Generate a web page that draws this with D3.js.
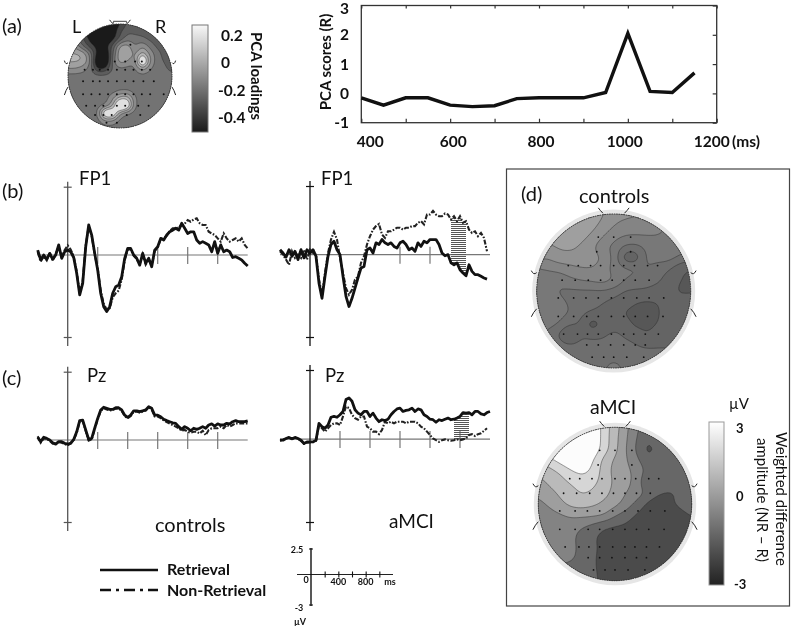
<!DOCTYPE html>
<html><head><meta charset="utf-8">
<style>
html,body{margin:0;padding:0;background:#fff}
svg{display:block;filter:blur(0.45px)}
text{font-family:Lato,"Open Sans",sans-serif;fill:#111}
.b{font-weight:700}
</style>
<script src="https://cdn.jsdelivr.net/npm/d3@7"></script>
</head><body><svg id="c" width="800" height="626"></svg>
<script>
// ---------- panel (a) scores ----------
const scoreMs = [400,450,500,550,600,650,700,750,800,850,900,950,1000,1050,1100,1150];
const scoreVals = [-0.15,-0.4,-0.15,-0.15,-0.4,-0.45,-0.42,-0.18,-0.15,-0.15,-0.15,0.03,2.05,0.07,0.03,0.7];
const scoreXLabels = [400,600,800,1000,1200];
const scoreYLabels = [3,2,1,0,-1];
// ---------- ERP traces, uV, every 20 ms from -200 ms ----------
const fp1CtrlRet = [.18,-.18,0,-.16,.06,-.16,0,.37,-.12,.12,.18,.12,-.09,-.67,-1.46,-1.04,.3,1.1,.73,.06,-.55,-1.4,-1.89,-2.07,-1.89,-1.4,-1.16,-1.1,-.79,-.12,.24,.24,0,-.12,-.37,.06,-.3,-.12,-.43,.18,.3,.61,.55,.73,.85,.91,.98,.91,1.16,.98,.79,.85,.85,.55,.43,.49,.43,.37,.12,.49,.06,.37,.12,.18,.12,-.09,-.06,-.12,-.18,-.3,-.4];
const fp1CtrlNon = [.1,-.24,-.06,-.2,.1,-.2,.05,.3,-.05,.18,.35,.2,-.05,-.6,-1.4,-.95,.35,1.05,.7,.02,-.5,-1.3,-1.78,-2.0,-1.95,-1.55,-1.4,-1.3,-.9,-.2,.2,.2,-.02,-.15,-.33,.03,-.35,-.17,-.4,.15,.27,.58,.6,.7,.88,.98,.98,1.0,1.1,1.15,1.28,1.22,1.3,1.34,1.16,1.1,1.1,.85,.79,.73,.61,.49,.79,.61,.49,.55,.61,.49,.61,.37,.24];
const fp1McirRet = [.18,.06,-.09,.18,-.06,.12,-.18,.18,-.12,.18,.06,.18,-.06,-1.04,-1.59,-.79,-.06,.37,.49,.18,0,-.79,-1.52,-1.89,-1.59,-1.22,-.85,-.49,-.43,.18,.24,.06,.43,.37,.55,.43,.37,.43,.3,.24,.43,.49,.37,.18,.24,.12,.43,.3,.49,.43,.55,.55,.55,.37,.06,-.04,0,-.3,-.37,-.3,-.55,-.67,-.77,-.37,-.61,-.73,-.73,-.79,-.85,-.89];
const fp1McirNon = [.12,0,-.18,-.37,.12,-.12,0,-.12,.18,-.18,.18,.06,0,-.91,-1.46,-.67,.06,.55,.83,.55,-.12,-.67,-1.22,-1.46,-1.28,-.91,-.79,-.3,-.06,.37,.67,.91,1.04,1.12,.73,.61,.85,.85,.91,.98,.98,.91,.98,.98,1.04,1.04,1.16,1.22,1.1,1.46,1.46,1.59,1.46,1.4,1.4,1.5,1.46,1.28,1.4,1.22,1.4,1.16,1.22,.91,.79,.85,.67,.79,.61,.12];
const pzCtrlRet = [.1,-.06,.1,.06,0,-.1,-.15,-.06,-.06,-.12,-.15,-.12,.02,.3,.71,.73,.37,.02,.06,.43,.79,1.1,1.2,1.16,1.12,1.12,1.18,1.18,1.1,.91,.83,.91,1.07,1.07,1.04,1.07,1.1,1.22,1.16,.91,.91,.85,.76,.71,.67,.63,.61,.49,.39,.49,.43,.34,.43,.39,.43,.49,.43,.55,.59,.51,.59,.55,.55,.61,.59,.67,.71,.67,.67,.67,.7];
const pzCtrlNon = [.14,-.1,.06,.04,-.03,-.13,-.12,-.08,-.1,-.14,-.2,-.1,0,.26,.68,.7,.33,-.02,.02,.4,.75,1.06,1.16,1.12,1.08,1.1,1.15,1.15,1.06,.87,.8,.88,1.03,1.04,1.0,1.04,1.08,1.2,1.12,.86,.86,.8,.72,.66,.6,.55,.49,.43,.34,.37,.3,.27,.3,.3,.24,.34,.18,.37,.43,.43,.43,.49,.43,.55,.49,.55,.61,.61,.61,.61,.61];
const pzMciRet = [-.04,-.04,.02,.06,.01,.06,.02,-.04,-.16,-.1,-.1,-.1,-.04,.57,.45,.39,.51,.79,.82,.79,.88,1.0,1.43,1.49,1.37,1.06,.94,.88,1.0,1.0,.82,.94,.76,.63,.7,.67,.72,.88,1.0,1.09,1.12,1.0,1.04,1.06,1.12,1.0,1.09,1.06,.88,.82,.72,.7,.61,.7,.67,.72,.76,.7,.72,.76,.82,.96,.94,.96,.88,1.0,1.0,.91,.88,.96,1.0];
const pzMciNon = [-.06,-.02,.03,.05,0,.05,.01,-.06,-.17,-.13,-.12,-.11,-.06,.51,.39,.27,.39,.51,.57,.57,.51,.82,1.18,1.12,.88,.76,.7,.82,.82,.45,.39,.27,.27,.18,.33,.63,.57,.63,.57,.63,.63,.63,.57,.63,.63,.63,.57,.45,.39,.27,.15,.02,-.04,-.1,-.04,-.01,-.04,-.06,-.04,-.01,-.04,-.01,.02,.15,.18,.11,.18,.21,.3,.39];
const xTickMs = [200,400,600,800,1000];
// ---------- topographic grids, 15 x 15 samples across the head ----------
const topoPca = [
[-.45,-.45,-.45,-.45,-.45,-.45,-.45,-.42,-.3,-.28,-.28,-.28,-.28,-.28,-.28],
[-.2,-.2,-.38,-.48,-.5,-.5,-.48,-.33,-.25,-.27,-.28,-.28,-.28,-.28,-.28],
[-.2,-.2,-.3,-.45,-.5,-.5,-.45,-.3,-.2,-.2,-.22,-.27,-.28,-.28,-.28],
[-.1,-.1,-.25,-.36,-.44,-.44,-.3,-.04,-.02,-.18,-.08,-.18,-.27,-.28,-.28],
[.02,.02,0,-.18,-.45,-.55,-.25,0,.02,-.12,.05,-.1,-.2,-.28,-.28],
[.02,.02,0,-.13,-.6,-.6,-.2,-.02,-.08,-.16,.4,-.08,-.2,-.25,-.28],
[-.08,-.08,-.12,-.2,-.42,-.4,-.22,-.18,-.2,-.18,-.04,-.16,-.2,-.22,-.28],
[-.2,-.2,-.2,-.2,-.2,-.2,-.2,-.2,-.2,-.2,-.2,-.2,-.2,-.2,-.2],
[-.2,-.2,-.2,-.2,-.2,-.2,-.2,-.2,-.2,-.2,-.2,-.2,-.2,-.2,-.2],
[-.2,-.2,-.2,-.2,-.2,-.2,-.2,-.17,-.17,-.2,-.2,-.2,-.2,-.2,-.2],
[-.2,-.2,-.2,-.2,-.2,-.2,-.1,.05,.08,-.16,-.2,-.2,-.2,-.2,-.2],
[-.2,-.2,-.2,-.2,-.2,-.17,-.05,.4,.25,-.17,-.2,-.2,-.2,-.2,-.2],
[-.2,-.2,-.2,-.2,-.18,.3,.3,-.1,-.18,-.2,-.2,-.2,-.2,-.2,-.2],
[-.2,-.2,-.2,-.2,-.2,-.1,-.1,-.2,-.2,-.2,-.2,-.2,-.2,-.2,-.2],
[-.2,-.2,-.2,-.2,-.2,-.2,-.2,-.2,-.2,-.2,-.2,-.2,-.2,-.2,-.2]];
const topoControls = [
[.4,.4,.4,.4,.4,.4,.25,0,-.05,-.1,-.15,-.4,-.6,-.7,-.7],
[.4,.4,.4,.4,.4,.35,.1,-.15,-.3,-.35,-.35,-.4,-.55,-.7,-.7],
[.4,.4,.4,.4,.35,.15,-.15,-.4,-.52,-.52,-.52,-.52,-.6,-.7,-.7],
[0,.1,.25,.3,.15,-.1,-.45,-.62,-.9,-.95,-.75,-.7,-.7,-.7,-.75],
[-.05,-.15,.05,.05,.05,0,-.17,-.6,-1.3,-1.3,-.75,-.72,-.7,-.85,-.95],
[-.6,-.5,-.42,-.3,-.2,-.17,-.35,-.65,-.72,-.77,-.82,-.95,-1.05,-1.3,-1.4],
[-.7,-.72,-.78,-.6,-.5,-.45,-.35,-.5,-.83,-.9,-.95,-1,-1.2,-1.35,-1.4],
[-.7,-.72,-.85,-.9,-.9,-.9,-.87,-.95,-1.1,-1.1,-1.1,-1.2,-1.25,-1.4,-1.4],
[-.7,-.72,-.75,-.85,-.9,-.95,-1.07,-1.15,-1.2,-1.35,-1.4,-1.35,-1.25,-1.25,-1.2],
[-.7,-.72,-.75,-.8,-1,-1.1,-1.15,-1.2,-1.4,-1.45,-1.45,-1.4,-1.2,-1.2,-1.2],
[-.7,-.72,-.8,-1,-1.1,-1.6,-1.3,-1.15,-1.2,-1.45,-1.45,-1.35,-1.2,-1.2,-1.2],
[-.75,-.9,-1.1,-1.6,-1.1,-1.15,-1.1,-1,-1.1,-1.15,-1.35,-1.2,-1.2,-1.2,-1.2],
[-.85,-.85,-.9,-.95,-.95,-.95,-1,-.95,-1,-1.05,-1.1,-1.1,-1.1,-1.1,-1.1],
[-.95,-.95,-.95,-.95,-.95,-.95,-.95,-.88,-.95,-.95,-.95,-.95,-.95,-.95,-.95],
[-.95,-.95,-.95,-.95,-.95,-.95,-.85,-.7,-.85,-.95,-.95,-.95,-.95,-.95,-.95]];
const topoMci = [
[3,3,3,3,3,3,1.9,1.1,.2,-.7,-1.1,-1.1,-1.1,-1.1,-1.1],
[3,3,3,3,3,3,1.9,1,.1,-.8,-1.4,-1.1,-1.1,-1.1,-1.1],
[3,3,3,3,3,2.9,1.9,1,0,-.9,-1.9,-1.2,-1.1,-1.1,-1.1],
[1.6,2,2.6,3,3,2.3,1.2,.6,.1,-.6,-1.3,-1.2,-1.1,-1.1,-1.1],
[.9,1.2,1.6,2.2,2.5,2.1,1.1,.5,.2,-.2,-1,-1.3,-1.2,-1.1,-1.1],
[.5,.9,1.2,1.6,1.9,1.7,1.2,.6,.2,-.2,-1.8,-1.2,-1.2,-1.2,-1.1],
[.1,.5,.9,1.2,1.6,1.4,1,.5,0,-.3,-.9,-1.4,-1.6,-1.4,-1.2],
[-.2,.1,.6,1,1.1,.9,.6,.3,-.3,-1,-1.7,-2,-1.6,-1.3,-1.2],
[-.4,-.3,-.1,.2,.2,.2,.1,-.7,-1.1,-1.6,-2,-2.1,-2,-1.7,-1.4],
[-.5,-.5,-.5,-.5,-.7,-1,-1.4,-1.5,-1.6,-2,-2.1,-2.1,-2.1,-2,-1.8],
[-.5,-.5,-.5,-.6,-1,-1.4,-1.8,-2,-2.1,-2.1,-2.1,-2.1,-2.1,-2.1,-2.1],
[-.5,-.5,-.5,-.6,-.9,-1.3,-1.8,-2,-2.1,-2.1,-2.1,-2.1,-2.1,-2.1,-2.1],
[-.5,-.5,-.5,-.6,-1,-1.4,-1.8,-2,-2.1,-2.1,-2.1,-2.1,-2.1,-2.1,-2.1],
[-.8,-.9,-1,-1.1,-1.2,-1.4,-1.7,-2,-2.1,-2.1,-2.1,-2.1,-2.1,-2.1,-2.1],
[-1.1,-1.1,-1.1,-1.2,-1.3,-1.4,-1.6,-2,-2.1,-2.1,-2.1,-2.1,-2.1,-2.1,-2.1]];
const levelsPca = [-.65,-.4,-.32,-.24,-.16,-.08,0,.08,.3];
const levelsControls = [-1.75,-1.35,-1.07,-.82,-.52,-.17,.2,.6];
const levelsMci = [-3,-2.25,-1.5,-.75,0,.75,1.5,2.25,3.6];
// electrode rows: normalised head y, then normalised head x
const sitesLarge = [[-.7,[-.2,0,.22]],[-.51,[-.22,.22]],[-.33,[-.59,-.46,-.3,-.17,0,.13,.27,.44,.57]],[-.14,[-.67,-.5,-.33,-.17,-.02,.13,.28,.46]],[.09,[-.72,-.52,-.36,-.2,-.03,.13,.3,.46,.65]],[.33,[-.72,-.52,-.35,-.2,-.03,.13,.28,.44,.64]],[.56,[-.65,-.47,-.34,-.2,-.03,.13,.26,.41,.58]],[.7,[-.35,-.2,-.04,.13,.28,.41]],[.86,[-.28,-.13,0,.17,.39]]];
const sitesSmall = [[-.6,[.2]],[-.28,[-.1,.1,.29,.42]],[-.12,[-.68,-.52,-.39,-.23,-.06,.1,.26,.42,.58]],[.1,[-.71,-.52,-.39,-.23,-.06,.1,.26,.45,.65]],[.35,[-.71,-.55,-.39,-.23,-.06,.1,.26,.42,.58,.84]],[.57,[-.65,-.48,-.32,-.06,.1,.35,.55]],[.75,[-.48,-.32,-.16,.13,.39]],[.9,[-.26,-.06]]];

const svg = d3.select("#c");
const defs = svg.append("defs");
const txt = (x,y,s,size,bold,anchor,rot) => {
  const t = svg.append("text").text(s).attr("font-size",size).attr("text-anchor",anchor||"start");
  if(bold) t.attr("class","b");
  if(rot) t.attr("transform",`translate(${x},${y}) rotate(${rot})`); else t.attr("x",x).attr("y",y);
  return t;
};

// ---------- (a) line ----------
const sx = d3.scaleLinear().domain([400,1200]).range([361.3,716.7]);
const sy = d3.scaleLinear().domain([-1,3]).range([122.7,5.5]);
const sg = svg.append("g");
sg.append("rect").attr("x",sx(400)).attr("y",sy(3)).attr("width",sx(1200)-sx(400)).attr("height",sy(-1)-sy(3)).attr("fill","none").attr("stroke","#333").attr("stroke-width",1.3);
const tickAxis = (gen,tr) => { const a = sg.append("g").attr("transform",tr).call(gen); a.select(".domain").remove(); a.selectAll("text").remove(); a.selectAll("line").attr("stroke","#333").attr("stroke-width",1.2); };
tickAxis(d3.axisBottom(sx).tickValues(d3.range(400,1201,100)).tickSize(-4),`translate(0,${sy(-1)})`);
tickAxis(d3.axisTop(sx).tickValues(d3.range(400,1201,100)).tickSize(-3),`translate(0,${sy(3)})`);
tickAxis(d3.axisRight(sy).tickValues(scoreYLabels).tickSize(-4),`translate(${sx(1200)},0)`);
sg.append("path").attr("fill","none").attr("stroke","#111").attr("stroke-width",3.4).attr("stroke-linejoin","miter")
  .attr("d",d3.line().x((d,i)=>sx(scoreMs[i])).y(d=>sy(d))(scoreVals));
const labelShift = {400:9,600:3,800:2,1000:-3,1200:-5};
scoreXLabels.forEach(v=>txt(sx(v)+labelShift[v],147,v,15.5,true,"middle"));
txt(732,147,"(ms)",15.5,true,"start");
scoreYLabels.forEach(v=>txt(349,sy(v)+ (v===3?8:5.5),v,15.5,true,"end"));
txt(331,62,"PCA scores (R)",15,true,"middle",-90);

// ---------- topographies ----------
function topo(grid,levels,ramp,cx,cy,r,sites,id,ring){
  const g = svg.append("g");
  if(ring) g.append("circle").attr("cx",cx).attr("cy",cy).attr("r",r+4.5).attr("fill","#e6e6e6");
  const n = grid.length, f = 6, N = (n-1)*f+1;
  const data = new Float64Array(N*N);
  for(let j=0;j<N;j++)for(let i=0;i<N;i++){
    const a=i/f,b=j/f,i0=Math.min(n-2,Math.floor(a)),j0=Math.min(n-2,Math.floor(b)),u=a-i0,v=b-j0;
    data[j*N+i]=(1-v)*((1-u)*grid[j0][i0]+u*grid[j0][i0+1])+v*((1-u)*grid[j0+1][i0]+u*grid[j0+1][i0+1]);
  }
  if(d3.blur2) d3.blur2({data,width:N,height:N},1.6);
  const px = d3.scaleLinear().domain([0,N-1]).range([cx-r,cx+r]);
  const py = d3.scaleLinear().domain([0,N-1]).range([cy-r,cy+r]);
  const path = d3.geoPath(d3.geoTransform({point(x,y){this.stream.point(px(x-.5),py(y-.5));}}));
  defs.append("clipPath").attr("id",id).append("circle").attr("cx",cx).attr("cy",cy).attr("r",r);
  const clip = g.append("g").attr("clip-path",`url(#${id})`);
  const mid = i => (levels[i]+levels[i+1])/2;
  clip.append("circle").attr("cx",cx).attr("cy",cy).attr("r",r).attr("fill",ramp(mid(0)));
  const bands = d3.contours().size([N,N]).smooth(true).thresholds(levels.slice(0,-1))(data);
  clip.selectAll("path").data(bands).join("path").attr("d",path)
    .attr("fill",(d,i)=>ramp(mid(i))).attr("stroke","#2b2b2b").attr("stroke-width",.6).attr("stroke-opacity",.75);
  sites.forEach(([yn,xs])=>xs.forEach(xn=>g.append("circle").attr("cx",cx+xn*r).attr("cy",cy+yn*r).attr("r",ring?.9:1).attr("fill","#111")));
  g.append("circle").attr("cx",cx).attr("cy",cy).attr("r",r).attr("fill","none").attr("stroke","#333").attr("stroke-width",1).attr("stroke-dasharray","1.6 .8");
  // ears and nose
  const mark = (x0,y0,x1,y1,qx,qy)=>g.append("path").attr("d",`M${x0},${y0}Q${qx},${qy} ${x1},${y1}`).attr("fill","none").attr("stroke","#222").attr("stroke-width",1);
  [-1,1].forEach(s=>{
    mark(cx+s*.14*r,cy-r*1.01,cx+s*.2*r,cy-r*1.08,cx+s*.18*r,cy-r*1.05);
    [-.2,.27].forEach(t=>mark(cx+s*1.0*r,cy+t*r-3,cx+s*1.07*r,cy+t*r+ (t<0?-5:5),cx+s*1.04*r,cy+t*r));
  });
  if(!ring) g.append("path").attr("d",`M${cx-.15*r},${cy-r*.98}L${cx-.12*r},${cy-r*1.05}L${cx+.12*r},${cy-r*1.05}L${cx+.15*r},${cy-r*.98}`).attr("fill","none").attr("stroke","#666").attr("stroke-width",1.2);
}
const rampPca = d3.scaleLinear().domain([-.52,.275]).range(["#1a1a1a","#f8f8f8"]).clamp(true);
const rampMv = d3.scaleLinear().domain([-3,3]).range(["#222222","#ffffff"]).clamp(true);
topo(topoPca,levelsPca,rampPca,120,76,52,sitesSmall,"m1",false);
topo(topoControls,levelsControls,rampMv,613.7,291,77,sitesLarge,"m2",true);
topo(topoMci,levelsMci,rampMv,615,504,76.7,sitesLarge,"m3",true);

// ---------- colour bars ----------
function bar(id,x,y0,y1,w,ramp,dom,stroke){
  const gr = defs.append("linearGradient").attr("id",id).attr("x1",0).attr("y1",1).attr("x2",0).attr("y2",0);
  d3.range(0,1.01,.1).forEach(t=>gr.append("stop").attr("offset",t).attr("stop-color",ramp(dom[0]+t*(dom[1]-dom[0]))));
  svg.append("rect").attr("x",x).attr("y",y0).attr("width",w).attr("height",y1-y0).attr("fill",`url(#${id})`).attr("stroke",stroke).attr("stroke-width",1);
}
bar("g1",192,25,132,16,rampPca,[-.52,.275],"#777");
[["0.2",35],["0",62],["-0.2",90],["-0.4",117]].forEach(([s,y])=>txt(s==="-0.2"||s==="-0.4"?218:221,y+5.5,s,15.5,true));
txt(251,76,"PCA loadings",15,true,"middle",90);
bar("g2",709,422,585,15,rampMv,[-3,3],"#999");
[["3",433],["0",501],["-3",589]].forEach(([s,y])=>txt(s==="-3"?734:736,y,s,13,true));
txt(729,409,"µV",15,false);
txt(776,499,"Weighted difference",15,false,"middle",90);
txt(757,500,"amplitude (NR – R)",15,false,"middle",90);

// ---------- box (d) ----------
svg.append("rect").attr("x",506.5).attr("y",169).attr("width",283).attr("height",437).attr("fill","none").attr("stroke","#444").attr("stroke-width",1.2);

// ---------- ERP panels ----------
const times = d3.range(-200,1201,20);
function erp(ox,oy,yTop,yBot,ret,non,ticks,hatch,axisColor){
  const x = d3.scaleLinear().domain([-200,1200]).range([ox-30,ox+180]);
  const y = d3.scaleLinear().domain([-3,2.5]).range([yBot,yTop]);
  const g = svg.append("g");
  g.append("line").attr("x1",x(-200)).attr("x2",x(1200)).attr("y1",y(0)).attr("y2",y(0)).attr("stroke","#777").attr("stroke-width",1.2);
  g.append("line").attr("x1",ox).attr("x2",ox).attr("y1",y(2.5)-5).attr("y2",y(-3)+9).attr("stroke",axisColor).attr("stroke-width",1.3);
  const a = g.append("g").attr("transform",`translate(${ox},0)`).call(d3.axisLeft(y).tickValues([-3,2.5]).tickSize(4).tickFormat(""));
  a.select(".domain").remove();
  a.selectAll("line").attr("x2",4).attr("x1",-4).attr("stroke",axisColor).attr("stroke-width",1.2);
  g.selectAll(null).data(ticks).join("line").attr("x1",d=>x(d)).attr("x2",d=>x(d)).attr("y1",y(0)-8).attr("y2",y(0)+9).attr("stroke","#777").attr("stroke-width",1.2);
  if(hatch){
    const idx = times.map((t,i)=>i).filter(i=>times[i]>=hatch[0]&&times[i]<=hatch[1]);
    g.append("path").attr("fill","url(#stripes)").attr("d",d3.area().x(i=>x(times[i])).y0(i=>y(ret[i])).y1(i=>y(non[i]))(idx));
  }
  const line = d3.line().x((d,i)=>x(times[i])).y(d=>y(d));
  g.append("path").attr("d",line(non)).attr("fill","none").attr("stroke","#222").attr("stroke-width",2.1).attr("stroke-dasharray","5 1.6 1.6 1.6");
  g.append("path").attr("d",line(ret)).attr("fill","none").attr("stroke","#111").attr("stroke-width",2.8).attr("stroke-linejoin","round");
}
const pat = defs.append("pattern").attr("id","stripes").attr("width",4).attr("height",2).attr("patternUnits","userSpaceOnUse");
pat.append("rect").attr("width",4).attr("height",1).attr("fill","#555");
erp(67.7,255,186.7,337,fp1CtrlRet,fp1CtrlNon,[200,600,800,1000],null,"#555");
erp(310,255,186,337,fp1McirRet,fp1McirNon,[600,800],[940,1040],"#111");
erp(67.7,440,371.7,522,pzCtrlRet,pzCtrlNon,xTickMs,null,"#555");
erp(310,439,370,522,pzMciRet,pzMciNon,xTickMs,[960,1060],"#111");

// ---------- text labels ----------
txt(2,33,"(a)",20); txt(2,198,"(b)",20); txt(2,385,"(c)",20); txt(521,201,"(d)",20);
txt(72,33,"L",18); txt(155,33,"R",18);
txt(79,185,"FP1",18.5); txt(321,185,"FP1",18.5);
txt(87,382,"Pz",18.5); txt(325,382,"Pz",18.5);
txt(155,532,"controls",20); txt(389,528,"aMCI",19);
txt(579,203,"controls",20); txt(590,414,"aMCI",19.5);

// ---------- legend ----------
svg.append("line").attr("x1",100).attr("x2",158).attr("y1",570).attr("y2",570).attr("stroke","#111").attr("stroke-width",2.6);
svg.append("line").attr("x1",100).attr("x2",158).attr("y1",590).attr("y2",590).attr("stroke","#111").attr("stroke-width",2.6).attr("stroke-dasharray","11 5 3 5");
txt(167,575,"Retrieval",16,true); txt(167,596,"Non-Retrieval",16,true);

// ---------- scale key ----------
const kx = d3.scaleLinear().domain([0,1200]).range([311,393]);
const ky = d3.scaleLinear().domain([-3,2.5]).range([605,549]);
svg.append("line").attr("x1",297).attr("x2",kx(1200)).attr("y1",ky(0)).attr("y2",ky(0)).attr("stroke","#222").attr("stroke-width",1.1);
svg.append("line").attr("x1",311).attr("x2",311).attr("y1",ky(2.5)-1).attr("y2",ky(-3)+1).attr("stroke","#111").attr("stroke-width",1.4);
const key = svg.append("g").attr("transform",`translate(0,${ky(0)})`).call(d3.axisBottom(kx).tickValues([200,400,600,800,1000]).tickSize(3).tickFormat(""));
key.select(".domain").remove(); key.selectAll("line").attr("y1",-3).attr("stroke","#111").attr("stroke-width",1.1);
[[2.5],[-3]].forEach(([v])=>svg.append("line").attr("x1",309).attr("x2",313).attr("y1",ky(v)).attr("y2",ky(v)).attr("stroke","#111"));
txt(297,553,"2.5",9,true,"middle"); txt(306,583,"0",9,true,"middle");
txt(kx(400),585,"400",9,true,"middle"); txt(kx(800),585,"800",9,true,"middle"); txt(390,585,"ms",9,true,"middle");
txt(299,611,"-3",9,true,"middle"); txt(300,625,"µV",9,true,"middle");
</script></body></html>
